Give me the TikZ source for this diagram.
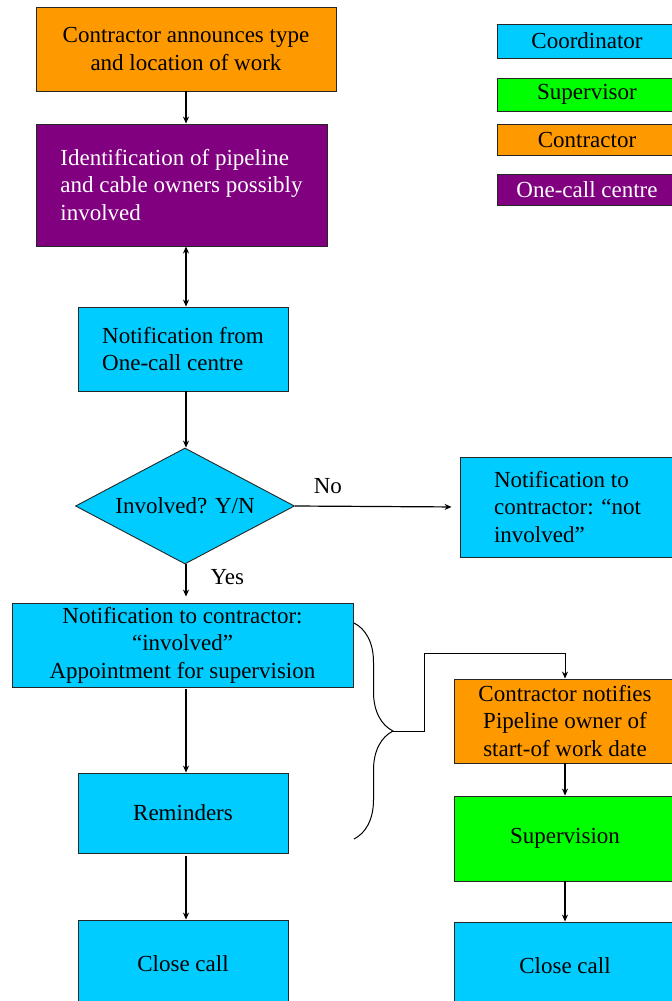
\documentclass[tikz,border=0pt]{standalone}
\usepackage{fontspec}
\setmainfont{Liberation Serif}
\usepackage{tikz}
\usetikzlibrary{arrows.meta,calc,positioning,shapes.geometric,decorations.pathreplacing}

\definecolor{coordcyan}{HTML}{00CCFF}
\definecolor{controrange}{HTML}{FF9900}
\definecolor{centrepurple}{HTML}{800080}
\definecolor{supgreen}{HTML}{00FF00}
\newcommand{\flowfont}{\fontsize{23bp}{27.5bp}\selectfont}

\begin{document}
\begin{tikzpicture}[x=1bp, y=-1bp, >={Stealth[length=7bp,width=6bp]},
    every node/.style={font=\flowfont, align=center},
    stage/.style={draw=black!85, line width=0.9bp, inner sep=0pt},
    coordbox/.style={stage, fill=coordcyan},
    contrbox/.style={stage, fill=controrange},
    centrebox/.style={stage, fill=centrepurple, text=white},
    supbox/.style={stage, fill=supgreen},
    flow/.style={->, line width=1.2bp}]
    \useasboundingbox (0,0) rectangle (672,1001);

    % main column
    \node[contrbox, minimum width=300bp, minimum height=84bp] (announce) at (186,49) {Contractor announces type\\ and location of work};
    \node[centrebox, minimum width=291bp, minimum height=122bp, align=left] (ident) at (181.5,185) {Identification of pipeline\\ and cable owners possibly\\ involved};
    \node[coordbox, minimum width=210bp, minimum height=84bp, align=left] (notify) at (183,349) {Notification from\\ One-call centre};
    \node[diamond, aspect=1.9, stage, fill=coordcyan, minimum width=219bp, minimum height=116bp] (decide) at (185,506) {Involved? Y/N};
    \node[coordbox, minimum width=215bp, minimum height=100bp, align=left] (notinv) at (567.5,507) {Notification to\\ contractor:\,\,“not\\ involved”};
    \node[coordbox, minimum width=341bp, minimum height=84bp] (involved) at (182.5,645) {Notification to contractor:\\ “involved”\\ Appointment for supervision};
    \node[coordbox, minimum width=210bp, minimum height=80bp] (remind) at (183,813) {Reminders};
    \node[coordbox, minimum width=210bp, minimum height=88bp] (closeL) at (183,964) {Close call};

    % right column
    \node[contrbox, minimum width=222bp, minimum height=84bp] (pnotify) at (565,721) {Contractor notifies\\ Pipeline owner of\\ start-of work date};
    \node[supbox, minimum width=222bp, minimum height=85bp] (superv) at (565,838.5) {Supervision};
    \node[coordbox, minimum width=222bp, minimum height=88bp] (closeR) at (565,966) {Close call};

    % legend
    \node[coordbox, minimum width=180bp, minimum height=34bp] (legCoord) at (587,41) {Coordinator};
    \node[supbox, minimum width=180bp, minimum height=33bp] (legSup) at (587,94.5) {Supervisor};
    \node[contrbox, minimum width=180bp, minimum height=31bp] (legContr) at (587,139.5) {Contractor};
    \node[centrebox, minimum width=180bp, minimum height=31bp] (legCentre) at (587,189.5) {One-call centre};

    \coordinate (bTop) at (354,623);
    \coordinate (bBot) at (354,839);
    \coordinate (bTip) at (393,731);
    \coordinate (turn) at (424,653);

    \draw[flow] (announce.south) -- (announce.south |- ident.north);
    \draw[flow, <->] (announce.south |- ident.south) -- (announce.south |- notify.north);
    \draw[flow] (announce.south |- notify.south) -- (announce.south |- decide.north);
    \draw[flow, shorten >=8bp] (decide.east) -- node[pos=0.2, above=12bp, inner sep=0pt] {No} (notinv.west);
    \draw[flow, shorten >=6bp] (announce.south |- decide.south) -- node[pos=0.33, right=24bp, inner sep=0pt] {Yes} (announce.south |- involved.north);
    \draw[flow, shorten <=2bp] (announce.south |- involved.south) -- (announce.south |- remind.north);
    \draw[flow, shorten <=3bp] (announce.south |- remind.south) -- (announce.south |- closeL.north);
    \draw[line width=1bp, decorate, decoration={brace, amplitude=39bp}] (bTop) -- (bBot);
    \draw[line width=1bp] (bTip) -| (turn);
    \draw[flow, line width=1bp] (turn) -| (pnotify.north);
    \draw[flow] (pnotify.south) -- (superv.north);
    \draw[flow] (superv.south) -- (closeR.north);
\end{tikzpicture}
\end{document}
